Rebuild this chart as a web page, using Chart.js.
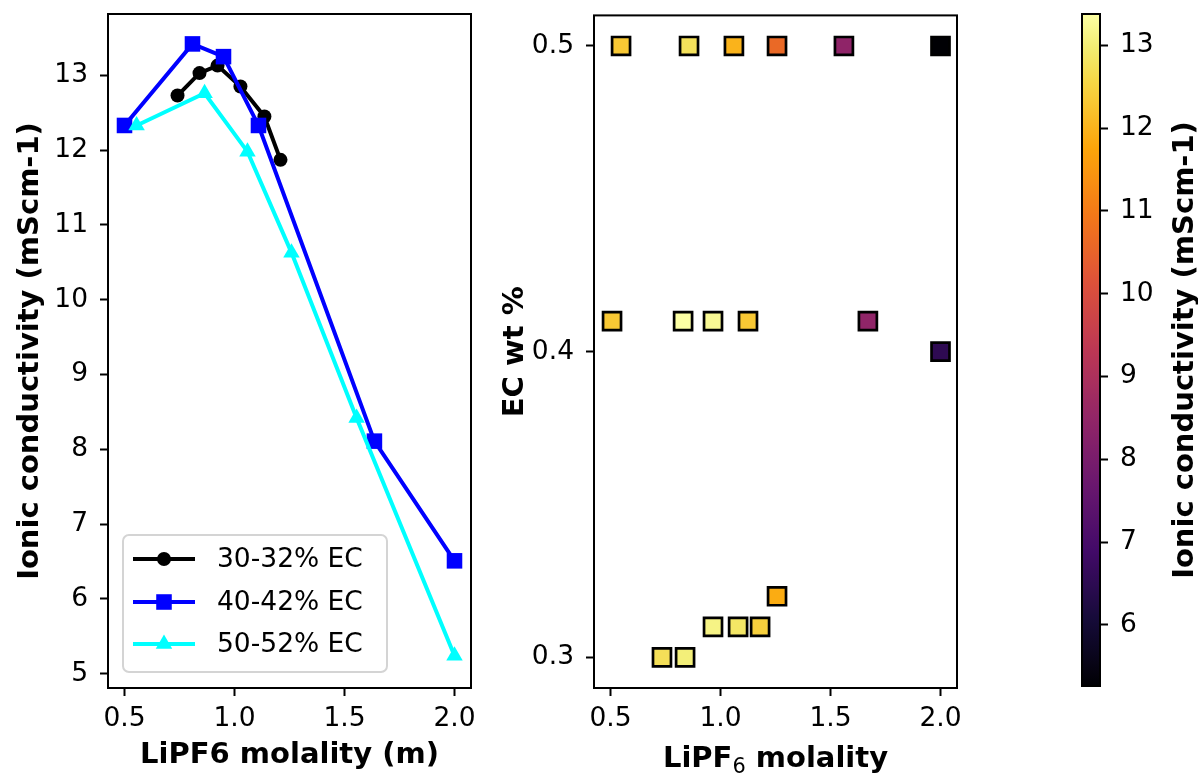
<!DOCTYPE html>
<html>
<head>
<meta charset="utf-8">
<script src="https://cdn.jsdelivr.net/npm/chart.js@4.4.1/dist/chart.umd.min.js"></script>
<style>
  html, body { margin: 0; padding: 0; background: #fff; }
  #wrap { position: relative; width: 1198px; height: 773px; overflow: hidden; background: #fff; }
  #wrap canvas { position: absolute; top: 0; }
</style>
</head>
<body>
<div id="wrap">
  <canvas id="lineChart" width="490" height="773" style="left:0px;width:490px;height:773px"></canvas>
  <canvas id="mapChart" width="490" height="773" style="left:490px;width:490px;height:773px"></canvas>
  <canvas id="barChart" width="218" height="773" style="left:980px;width:218px;height:773px"></canvas>
</div>
<script>
// ---- conductivity vs. LiPF6 molality, one series per EC content ----
const seriesLabels = ['30-32% EC', '40-42% EC', '50-52% EC'];
const molality30 = [0.741, 0.841, 0.923, 1.027, 1.136, 1.209];
const sigma30    = [12.73, 13.03, 13.13, 12.85, 12.45, 11.87];
const molality40 = [0.500, 0.809, 0.950, 1.109, 1.636, 2.000];
const sigma40    = [12.33, 13.42, 13.25, 12.33, 8.11, 6.51];
const molality50 = [0.555, 0.864, 1.059, 1.259, 1.555, 2.000];
const sigma50    = [12.33, 12.76, 11.98, 10.63, 8.42, 5.24];

// ---- composition map: molality vs. EC weight fraction, coloured by conductivity ----
const mapMolality = [0.548, 0.857, 1.061, 1.257, 1.561, 2.000,
                     0.507, 0.830, 0.966, 1.125, 1.670, 2.000,
                     0.734, 0.839, 0.966, 1.080, 1.180, 1.257];
const mapEC       = [0.50, 0.50, 0.50, 0.50, 0.50, 0.50,
                     0.41, 0.41, 0.41, 0.41, 0.41, 0.40,
                     0.30, 0.30, 0.31, 0.31, 0.31, 0.32];
const mapSigma    = [12.33, 12.76, 11.98, 10.63, 8.42, 5.26,
                     12.33, 13.38, 13.25, 12.33, 8.45, 6.51,
                     12.73, 13.03, 13.13, 12.85, 12.45, 11.87];

// ---- tick labels ----
const molalityTicks = [0.5, 1.0, 1.5, 2.0];
const sigmaTicks    = [5, 6, 7, 8, 9, 10, 11, 12, 13];
const ecTicks       = [0.3, 0.4, 0.5];
const colorbarTicks = [6, 7, 8, 9, 10, 11, 12, 13];

const FONT = "'DejaVu Sans', 'Liberation Sans', sans-serif";
const tickFont  = { family: FONT, size: 26.5 };
const labelFont = { family: FONT, size: 29, weight: 'bold' };

// inferno colormap stops
const infernoStops = [
  [0.00, [0, 0, 4]], [0.10, [22, 11, 57]], [0.20, [66, 10, 104]],
  [0.30, [106, 23, 110]], [0.40, [147, 38, 103]], [0.50, [188, 55, 84]],
  [0.60, [221, 81, 58]], [0.70, [243, 120, 25]], [0.80, [252, 165, 10]],
  [0.90, [246, 215, 70]], [0.95, [242, 236, 114]], [1.00, [252, 255, 164]]
];
function inferno(t) {
  t = Math.max(0, Math.min(1, t));
  for (let i = 1; i < infernoStops.length; i++) {
    const [t1, c1] = infernoStops[i];
    const [t0, c0] = infernoStops[i - 1];
    if (t <= t1) {
      const f = (t - t0) / (t1 - t0);
      const c = c0.map((v, k) => Math.round(v + (c1[k] - v) * f));
      return `rgb(${c[0]},${c[1]},${c[2]})`;
    }
  }
  return 'rgb(252,255,164)';
}
const vmin = Math.min(...mapSigma);
const vmax = Math.max(...mapSigma);
const norm = v => (v - vmin) / (vmax - vmin);

const pts = (xs, ys) => xs.map((x, i) => ({ x, y: ys[i] }));
const fixedTicks = list => scale => { scale.ticks = list.map(v => ({ value: v })); };

// fixed axis thickness, no extra room reserved for edge labels
const fitY = w => s => { s.width = w; s.paddingTop = 0; s.paddingBottom = 0; };
const fitX = h => s => { s.height = h; s.paddingLeft = 0; s.paddingRight = 0; };

function axisStyle(extra) {
  return Object.assign({
    type: 'linear',
    grid: { display: true, drawOnChartArea: false, drawTicks: true, tickLength: 8,
            tickWidth: 2, tickColor: '#000', color: '#000' },
    border: { display: false },
  }, extra);
}

// four-sided frame around the plotting area
const frame = {
  id: 'frame',
  afterDraw(chart) {
    const { ctx, chartArea: a } = chart;
    ctx.save();
    ctx.strokeStyle = '#000';
    ctx.lineWidth = 2;
    ctx.strokeRect(a.left, a.top, a.right - a.left, a.bottom - a.top);
    ctx.restore();
  }
};

function drawMarker(ctx, style, r, x, y) {
  ctx.beginPath();
  if (style === 'circle') {
    ctx.arc(x, y, r, 0, Math.PI * 2);
  } else if (style === 'rect') {
    const s = r * Math.SQRT1_2;
    ctx.rect(x - s, y - s, 2 * s, 2 * s);
  } else if (style === 'triangle') {
    for (let k = 0; k < 3; k++) {
      const ang = k * 2 * Math.PI / 3;
      const px = x + Math.sin(ang) * r, py = y - Math.cos(ang) * r;
      k ? ctx.lineTo(px, py) : ctx.moveTo(px, py);
    }
    ctx.closePath();
  }
  ctx.fill();
}

// legend box in the lower-left corner of the line plot
const insetLegend = {
  id: 'insetLegend',
  afterDraw(chart) {
    const { ctx, chartArea: a } = chart;
    const bx = a.left + 15, by = a.bottom - 153, bw = 264, bh = 137;
    ctx.save();
    ctx.beginPath();
    ctx.roundRect(bx, by, bw, bh, 6);
    ctx.fillStyle = 'rgba(255,255,255,0.8)';
    ctx.fill();
    ctx.strokeStyle = '#d4d4d4';
    ctx.lineWidth = 2;
    ctx.stroke();
    const rowY = [a.bottom - 129, a.bottom - 86, a.bottom - 44];
    chart.data.datasets.forEach((ds, i) => {
      const y = rowY[i];
      ctx.strokeStyle = ds.borderColor;
      ctx.lineWidth = ds.borderWidth;
      ctx.beginPath();
      ctx.moveTo(bx + 10, y);
      ctx.lineTo(bx + 72, y);
      ctx.stroke();
      ctx.fillStyle = ds.pointBackgroundColor;
      drawMarker(ctx, ds.pointStyle, ds.pointRadius, bx + 41, y);
      ctx.fillStyle = '#000';
      ctx.font = `${tickFont.size}px ${FONT}`;
      ctx.textBaseline = 'middle';
      ctx.textAlign = 'left';
      ctx.fillText(ds.label, bx + 94, y + 1);
    });
    ctx.restore();
  }
};

function lineSet(label, xs, ys, color, style, radius, order) {
  return {
    label, data: pts(xs, ys), borderColor: color, backgroundColor: color,
    pointBackgroundColor: color, pointBorderColor: color, pointBorderWidth: 0,
    pointStyle: style, pointRadius: radius, borderWidth: 4, tension: 0,
    showLine: true, order
  };
}

new Chart(document.getElementById('lineChart'), {
  type: 'scatter',
  data: {
    datasets: [
      lineSet(seriesLabels[0], molality30, sigma30, '#000000', 'circle', 7, 3),
      lineSet(seriesLabels[1], molality40, sigma40, '#0000ff', 'rect', 11, 2),
      lineSet(seriesLabels[2], molality50, sigma50, '#00ffff', 'triangle', 9.5, 1)
    ]
  },
  options: {
    responsive: false, animation: false, devicePixelRatio: 1,
    layout: { padding: { top: 14, right: 19, left: 0, bottom: 0 } },
    plugins: { legend: { display: false }, tooltip: { enabled: false } },
    scales: {
      x: axisStyle({
        min: 0.425, max: 2.075,
        afterBuildTicks: fixedTicks(molalityTicks),
        afterFit: fitX(85),
        ticks: { font: tickFont, color: '#000', padding: 7, maxRotation: 0,
                 callback: v => Number(v).toFixed(1) },
        title: { display: true, text: 'LiPF6 molality (m)', font: labelFont, color: '#000',
                 padding: { top: 0, bottom: 0 } }
      }),
      y: axisStyle({
        min: 4.81, max: 13.82,
        afterBuildTicks: fixedTicks(sigmaTicks),
        afterFit: fitY(108),
        ticks: { font: tickFont, color: '#000', padding: 12, callback: v => String(v) },
        title: { display: true, text: 'Ionic conductivity (mScm-1)', font: labelFont, color: '#000',
                 padding: { top: 13, bottom: 0 } }
      })
    }
  },
  plugins: [frame, insetLegend]
});

// x label with a subscripted 6
const subscriptLabel = {
  id: 'subscriptLabel',
  afterDraw(chart) {
    const { ctx, chartArea: a } = chart;
    const parts = [
      { t: 'LiPF', f: `bold ${labelFont.size}px ${FONT}`, dy: 0 },
      { t: '6', f: `${labelFont.size * 0.72}px ${FONT}`, dy: 6 },
      { t: ' molality', f: `bold ${labelFont.size}px ${FONT}`, dy: 0 }
    ];
    ctx.save();
    ctx.fillStyle = '#000';
    ctx.textBaseline = 'alphabetic';
    ctx.textAlign = 'left';
    let total = 0;
    parts.forEach(p => { ctx.font = p.f; p.w = ctx.measureText(p.t).width; total += p.w; });
    let x = (a.left + a.right) / 2 - total / 2;
    const base = 767;
    parts.forEach(p => { ctx.font = p.f; ctx.fillText(p.t, x, base + p.dy); x += p.w; });
    ctx.restore();
  }
};

new Chart(document.getElementById('mapChart'), {
  type: 'scatter',
  data: {
    datasets: [{
      data: pts(mapMolality, mapEC),
      pointStyle: 'rect',
      pointRadius: 12.7,
      pointBorderWidth: 2.7,
      pointBorderColor: '#000',
      pointBackgroundColor: mapSigma.map(v => inferno(norm(v)))
    }]
  },
  options: {
    responsive: false, animation: false, devicePixelRatio: 1,
    layout: { padding: { top: 14, right: 23, left: 0, bottom: 0 } },
    plugins: { legend: { display: false }, tooltip: { enabled: false } },
    scales: {
      x: axisStyle({
        min: 0.425, max: 2.075,
        afterBuildTicks: fixedTicks(molalityTicks),
        afterFit: fitX(85),
        ticks: { font: tickFont, color: '#000', padding: 7, maxRotation: 0,
                 callback: v => Number(v).toFixed(1) },
        title: { display: false }
      }),
      y: axisStyle({
        min: 0.29, max: 0.51,
        afterBuildTicks: fixedTicks(ecTicks),
        afterFit: fitY(104),
        ticks: { font: tickFont, color: '#000', padding: 12, callback: v => Number(v).toFixed(1) },
        title: { display: true, text: 'EC wt %', font: labelFont, color: '#000',
                 padding: { top: 8, bottom: 0 } }
      })
    }
  },
  plugins: [frame, subscriptLabel]
});

// colour bar: inferno gradient with conductivity scale on the right
const gradientBar = {
  id: 'gradientBar',
  beforeDatasetsDraw(chart) {
    const { ctx, chartArea: a } = chart;
    const g = ctx.createLinearGradient(0, a.bottom, 0, a.top);
    for (let i = 0; i <= 40; i++) g.addColorStop(i / 40, inferno(i / 40));
    ctx.save();
    ctx.fillStyle = g;
    ctx.fillRect(a.left, a.top, a.right - a.left, a.bottom - a.top);
    ctx.restore();
  },
  afterDraw(chart) {
    const { ctx, chartArea: a } = chart;
    ctx.save();
    ctx.fillStyle = '#000';
    ctx.font = `bold ${labelFont.size}px ${FONT}`;
    ctx.textAlign = 'center';
    ctx.textBaseline = 'middle';
    ctx.translate(205, (a.top + a.bottom) / 2);
    ctx.rotate(-Math.PI / 2);
    ctx.fillText('Ionic conductivity (mScm-1)', 0, 0);
    ctx.restore();
  }
};

new Chart(document.getElementById('barChart'), {
  type: 'scatter',
  data: { datasets: [{ data: [] }] },
  options: {
    responsive: false, animation: false, devicePixelRatio: 1,
    layout: { padding: { top: 14, right: 0, left: 102, bottom: 87 } },
    plugins: { legend: { display: false }, tooltip: { enabled: false } },
    scales: {
      x: { type: 'linear', display: false, min: 0, max: 1 },
      y: axisStyle({
        position: 'right',
        min: vmin, max: vmax,
        afterBuildTicks: fixedTicks(colorbarTicks),
        afterFit: fitY(98),
        ticks: { font: tickFont, color: '#000', padding: 12, callback: v => String(v) },
        title: { display: false }
      })
    }
  },
  plugins: [gradientBar, frame]
});
</script>
</body>
</html>
